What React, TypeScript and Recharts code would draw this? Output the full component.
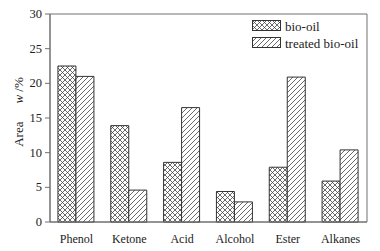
import React from 'react';
import { BarChart, Bar, XAxis, YAxis, ReferenceArea } from 'recharts';

const categories = ['Phenol', 'Ketone', 'Acid', 'Alcohol', 'Ester', 'Alkanes'];
const bioOil = [22.5, 13.9, 8.6, 4.4, 7.9, 5.9];
const treatedBioOil = [21.0, 4.6, 16.5, 2.9, 20.9, 10.4];
const yTicks = [0, 5, 10, 15, 20, 25, 30];

const data = categories.map((name, i) => ({ name, bio: bioOil[i], treated: treatedBioOil[i] }));

const FONT = 'Liberation Serif';
const AXIS = '#707070';
const EDGE = '#333';

const legendItems = [
  { id: 'xhatch', label: 'bio-oil' },
  { id: 'dhatch', label: 'treated bio-oil' },
];

const LegendBox = () => (
  <svg width={112} height={30} style={{ position: 'absolute', left: 252, top: 20 }}>
    {legendItems.map((item, i) => (
      <g key={item.id} transform={`translate(0, ${i * 17})`}>
        <rect x={0.5} y={0.5} width={28} height={10} fill={`url(#${item.id})`} stroke={EDGE} />
        <text x={33} y={6} dominantBaseline="central" style={{ fontFamily: FONT, fontSize: 13, fill: '#222' }}>
          {item.label}
        </text>
      </g>
    ))}
  </svg>
);

const YLabel = () => (
  <text
    x={18}
    y={112}
    transform="rotate(-90, 18, 112)"
    textAnchor="middle"
    dominantBaseline="central"
    style={{ fontFamily: FONT, fontSize: 13, fill: '#222' }}
  >
    <tspan>Area</tspan>
    <tspan dx={18} fontStyle="italic">w</tspan>
    <tspan> /%</tspan>
  </text>
);

const XTick = (props: any) => {
  const { x, y, payload } = props;
  return (
    <text x={x} y={y + 13} textAnchor="middle" style={{ fontFamily: FONT, fontSize: 12, fill: '#222' }}>
      {payload.value}
    </text>
  );
};

const YTick = (props: any) => {
  const { x, y, payload } = props;
  return (
    <text x={x} y={y} textAnchor="end" dominantBaseline="central" style={{ fontFamily: FONT, fontSize: 12.5, fill: '#222' }}>
      {payload.value}
    </text>
  );
};

export default function App() {
  return (
    <div style={{ position: 'absolute', left: 0, top: 0, background: '#fff', width: 380, height: 251 }}>
      <BarChart
        width={380}
        height={251}
        data={data}
        margin={{ top: 14, right: 13, left: 0, bottom: 0 }}
        barCategoryGap="15%"
        barGap={0}
      >
        <defs>
          <pattern id="xhatch" width={5} height={5} patternUnits="userSpaceOnUse">
            <rect width={5} height={5} fill="#fff" />
            <path d="M0,0 L5,5 M5,0 L0,5" stroke="#444" strokeWidth={0.8} />
          </pattern>
          <pattern id="dhatch" width={5} height={5} patternUnits="userSpaceOnUse">
            <rect width={5} height={5} fill="#fff" />
            <path d="M0,5 L5,0 M-1,1 L1,-1 M4,6 L6,4" stroke="#444" strokeWidth={0.8} />
          </pattern>
        </defs>
        <XAxis
          dataKey="name"
          tickLine={false}
          axisLine={{ stroke: AXIS }}
          tick={<XTick />}
          height={29}
          interval={0}
        />
        <YAxis
          domain={[0, 30]}
          ticks={yTicks}
          width={50}
          tickSize={5}
          tickMargin={3}
          tickLine={{ stroke: AXIS }}
          axisLine={{ stroke: AXIS }}
          tick={<YTick />}
          label={<YLabel />}
        />
        <ReferenceArea y1={0} y2={30} fill="none" stroke={AXIS} strokeWidth={1} ifOverflow="visible" />
        <Bar dataKey="bio" fill="url(#xhatch)" stroke={EDGE} strokeWidth={1} isAnimationActive={false} />
        <Bar dataKey="treated" fill="url(#dhatch)" stroke={EDGE} strokeWidth={1} isAnimationActive={false} />
      </BarChart>
      <LegendBox />
    </div>
  );
}
